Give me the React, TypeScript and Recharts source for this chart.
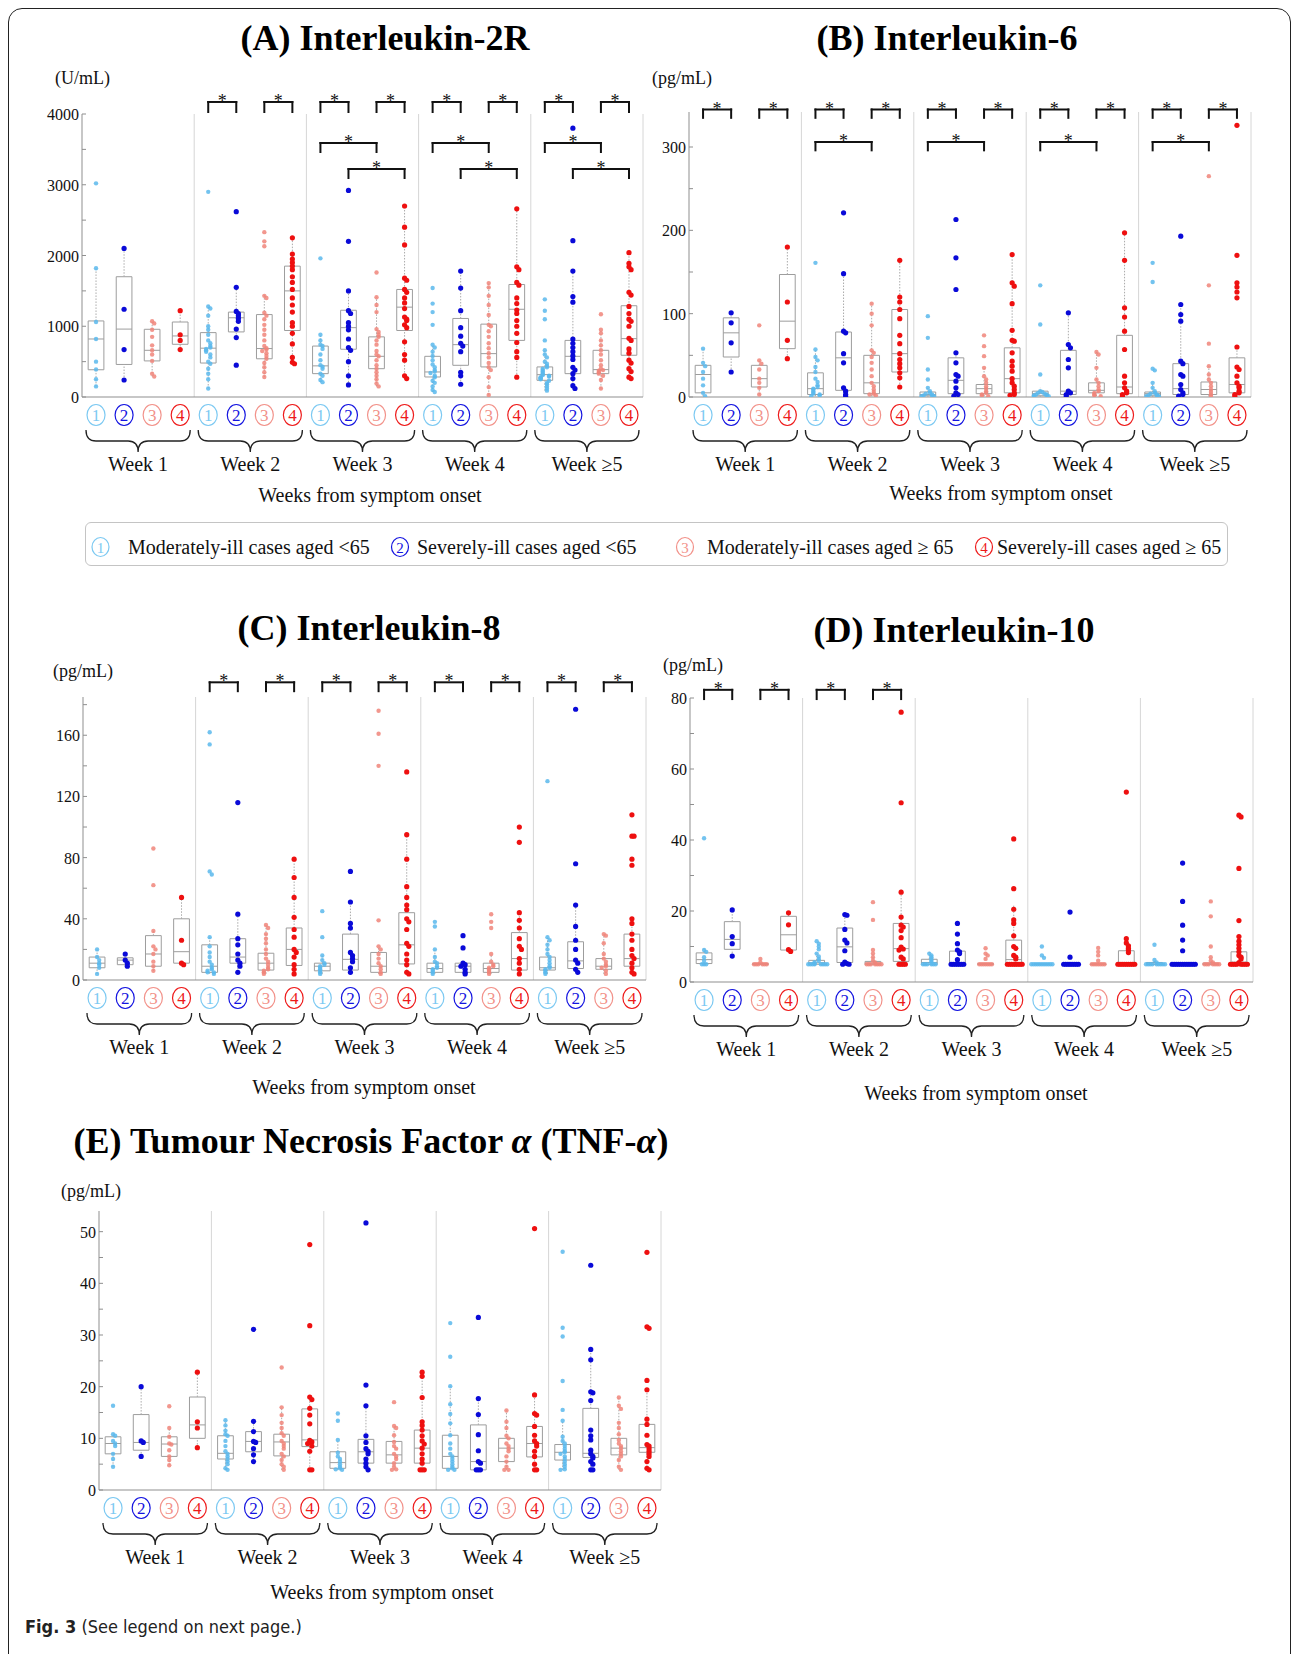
import React from 'react';
import { ComposedChart, Scatter, XAxis, YAxis, ReferenceLine, ReferenceArea } from 'recharts';

const SERIF = '"Liberation Serif", "Times New Roman", Times, serif';
const SANS_NARROW = '"Liberation Sans Narrow", "DejaVu Sans Condensed", "Noto Sans", sans-serif';

const WEEKS = ['Week 1', 'Week 2', 'Week 3', 'Week 4', 'Week ≥5'];
const GROUPS = [
  'Moderately-ill cases aged <65',
  'Severely-ill cases aged <65',
  'Moderately-ill cases aged ≥ 65',
  'Severely-ill cases aged ≥ 65',
];
const DOT_COLORS = ['#5bb8ec', '#0a0ad8', '#f0857a', '#ee1010'];
const RING_COLORS = ['#7cc9f2', '#1414e0', '#f2928a', '#ee1a1a'];
const DOT_SIZE = [2.2, 2.6, 2.2, 2.6];
const DOT_OPACITY = [0.85, 1, 0.85, 1];
const BOX_GREY = '#9d9d9d';

// x positions 1..20 : week * 4 + group
const POSITIONS = Array.from({ length: 20 }, (_, i) => i + 1);
const WEEK_EDGES = [4.5, 8.5, 12.5, 16.5, 20.5];

// ---------- (A) IL-2R, U/mL : [group][week][values] ----------
const IL2R_G1 = [
  [3020, 1820, 1060, 820, 500, 390, 250, 150],
  [2900, 1280, 1250, 1150, 1000, 950, 880, 800, 760, 720, 700, 680, 660, 640, 600, 560, 500, 470, 400, 330, 250, 120],
  [1960, 880, 800, 740, 720, 680, 600, 520, 450, 430, 400, 330, 300, 240, 210],
  [1540, 1320, 1200, 1020, 740, 700, 640, 580, 520, 460, 420, 380, 360, 340, 300, 280, 230, 200, 150, 100, 70],
  [1380, 1220, 1100, 800, 660, 600, 560, 500, 470, 440, 420, 400, 380, 360, 340, 320, 310, 300, 290, 280, 270, 260, 250, 230, 200, 180, 150, 120, 90],
];
const IL2R_G2 = [
  [2100, 1240, 670, 240],
  [2620, 1550, 1210, 1180, 1150, 1110, 1070, 960, 840, 450],
  [2920, 2200, 1500, 1220, 1180, 1050, 1000, 950, 820, 700, 660, 500, 300, 170],
  [1780, 1540, 1220, 980, 860, 760, 720, 640, 350, 300, 180],
  [3800, 2210, 1780, 1420, 1340, 820, 760, 700, 640, 580, 530, 420, 380, 330, 260, 160, 120],
];
const IL2R_G3 = [
  [1070, 1040, 950, 850, 730, 660, 600, 510, 330, 290],
  [2330, 2200, 2130, 1430, 1400, 1190, 1150, 1100, 1020, 950, 880, 800, 720, 690, 670, 650, 620, 580, 540, 480, 420, 350, 283],
  [1760, 1410, 1300, 1200, 960, 920, 880, 850, 800, 740, 650, 600, 575, 520, 450, 400, 350, 300, 250, 190, 150],
  [1610, 1550, 1430, 1300, 1160, 1020, 1000, 930, 850, 760, 690, 620, 560, 480, 420, 380, 280, 140, 30],
  [1170, 950, 900, 800, 730, 660, 600, 520, 450, 400, 380, 370, 350, 330, 300, 240, 120],
];
const IL2R_G4 = [
  [1220, 880, 800, 670],
  [2250, 2020, 1950, 1900, 1850, 1800, 1700, 1620, 1520, 1400, 1300, 1200, 1050, 1000, 900, 750, 560, 490, 470],
  [2700, 2400, 2150, 1680, 1650, 1520, 1480, 1400, 1330, 1250, 1130, 1100, 1080, 1020, 980, 780, 600, 520, 300, 260],
  [2660, 1840, 1800, 1620, 1580, 1400, 1320, 1230, 1180, 1080, 1000, 900, 770, 640, 560, 280],
  [2040, 1890, 1840, 1800, 1480, 1440, 1280, 1180, 1100, 1070, 1000, 830, 800, 680, 620, 520, 480, 400, 360, 280, 260],
];
// [whisker low, q1, median, q3, whisker high] per position
const IL2R_BOX = [
  [150, 385, 820, 1075, 1820], [240, 460, 960, 1700, 2100], [290, 510, 660, 957, 1080], [670, 745, 863, 1060, 1220],
  [120, 480, 690, 910, 1300], [840, 920, 1120, 1200, 1550], [283, 540, 685, 1165, 1440], [470, 940, 1500, 1850, 2250],
  [210, 330, 440, 720, 880], [165, 675, 980, 1226, 1500], [150, 400, 575, 850, 1410], [260, 940, 1270, 1520, 2700],
  [70, 283, 354, 575, 740], [180, 448, 740, 1110, 1780], [30, 425, 613, 1030, 1610], [280, 800, 1240, 1590, 2660],
  [90, 236, 316, 425, 660], [120, 330, 575, 800, 1780], [118, 330, 387, 660, 950], [260, 590, 825, 1290, 2040],
];
// [from, to, bracket row]
const IL2R_SIG = [
  [5, 6, 0], [7, 8, 0], [9, 10, 0], [11, 12, 0], [13, 14, 0], [15, 16, 0], [17, 18, 0], [19, 20, 0],
  [9, 11, 1], [13, 15, 1], [17, 19, 1],
  [10, 12, 2], [14, 16, 2], [18, 20, 2],
];

// ---------- (B) IL-6, pg/mL ----------
const IL6_G1 = [
  [58, 41, 37, 30, 22, 14, 5, 1],
  [161, 57, 48, 44, 36, 30, 22, 18, 14, 12, 10, 9, 7, 5, 4, 3, 2, 1],
  [97, 71, 33, 21, 11, 7, 5, 4, 3, 2, 2, 1, 1],
  [134, 87, 27, 7, 6, 5, 4, 3, 3, 2, 2, 1, 1],
  [161, 138, 34, 32, 17, 11, 7, 5, 4, 3, 2, 2, 1, 1],
];
const IL6_G2 = [
  [101, 89, 65, 30],
  [221, 148, 79, 77, 52, 41, 11, 7, 3, 1],
  [213, 167, 129, 53, 41, 27, 25, 19, 11, 5, 3, 1],
  [101, 63, 59, 45, 35, 7, 5, 3, 1],
  [193, 111, 99, 91, 43, 40, 27, 25, 15, 9, 5, 3, 1],
];
const IL6_G3 = [
  [86, 44, 40, 33, 22, 17, 11, 3],
  [112, 100, 86, 56, 53, 48, 41, 33, 25, 17, 13, 9, 6, 4, 3, 2],
  [74, 61, 49, 35, 25, 21, 17, 13, 10, 7, 5, 3, 2, 1],
  [54, 51, 35, 21, 17, 13, 9, 7, 5, 3, 2, 1],
  [265, 134, 64, 37, 27, 21, 17, 13, 9, 6, 3, 1],
];
const IL6_G4 = [
  [180, 114, 68, 46],
  [164, 120, 114, 105, 94, 74, 64, 52, 45, 40, 35, 29, 23, 12],
  [171, 137, 133, 112, 80, 68, 67, 53, 43, 37, 31, 22, 17, 13, 9, 5, 3, 2],
  [197, 164, 107, 96, 79, 57, 25, 17, 11, 7, 5, 3, 1],
  [326, 170, 137, 132, 126, 119, 60, 36, 33, 25, 17, 13, 11, 7, 5, 3, 1],
];
const IL6_BOX = [
  [1, 5, 27, 38, 58], [30, 48, 77, 95, 101], [3, 12, 22, 38, 45], [46, 58, 91, 147, 180],
  [1, 3, 10, 29, 57], [1, 8, 47, 78, 148], [1, 4, 17, 50, 112], [12, 30, 52, 105, 164],
  [0.5, 1.5, 3, 6, 11], [1, 4, 20, 47, 53], [1, 4, 10, 15, 35], [1, 5, 22, 59, 171],
  [0.5, 1.5, 4, 7, 11], [1, 3, 7, 56, 101], [1, 5, 8, 17, 54], [1, 4, 12, 74, 197],
  [0.5, 1.5, 4, 6, 17], [1, 3, 10, 40, 111], [1, 3, 9, 18, 37], [1, 5, 15, 47, 60],
];
const IL6_SIG = [
  [1, 2, 0], [3, 4, 0], [5, 6, 0], [7, 8, 0], [9, 10, 0], [11, 12, 0], [13, 14, 0], [15, 16, 0], [17, 18, 0], [19, 20, 0],
  [5, 7, 1], [9, 11, 1], [13, 15, 1], [17, 19, 1],
];

// ---------- (C) IL-8, pg/mL ----------
const IL8_G1 = [
  [20, 15, 13, 11, 10, 8, 4],
  [162, 154, 71, 69, 28, 22, 18, 15, 12, 10, 8, 7, 6, 5, 5, 4],
  [45, 28, 16, 13, 11, 10, 9, 8, 7, 6, 5, 4],
  [38, 35, 20, 15, 12, 11, 9, 8, 7, 6, 5, 4],
  [130, 28, 26, 23, 20, 17, 15, 13, 11, 9, 8, 7, 6, 5, 4],
];
const IL8_G2 = [
  [17, 13, 11, 9],
  [116, 43, 27, 23, 17, 13, 11, 9, 5],
  [71, 51, 37, 34, 18, 16, 14, 12, 8, 5],
  [29, 21, 11, 10, 9, 7, 5, 4],
  [177, 76, 49, 35, 26, 20, 13, 11, 7, 5],
];
const IL8_G3 = [
  [86, 62, 32, 22, 20, 17, 12, 9, 6],
  [36, 34, 30, 27, 24, 20, 17, 14, 12, 10, 8, 7, 6, 5, 4],
  [176, 161, 140, 39, 22, 20, 17, 14, 11, 9, 7, 5, 4],
  [43, 38, 34, 17, 12, 10, 9, 8, 7, 6, 5, 4],
  [30, 29, 24, 17, 14, 12, 10, 9, 8, 6, 4],
];
const IL8_G4 = [
  [54, 26, 11, 10],
  [79, 67, 54, 41, 33, 28, 20, 18, 15, 10, 7, 4],
  [136, 95, 79, 61, 54, 49, 46, 40, 38, 33, 24, 22, 17, 13, 10, 5, 4],
  [100, 90, 44, 39, 34, 27, 22, 20, 14, 11, 7, 4],
  [108, 94, 94, 79, 75, 40, 37, 30, 26, 20, 16, 14, 11, 8, 5, 4],
];
const IL8_BOX = [
  [4, 8, 11, 15, 20], [9, 10, 13, 14.5, 17], [6, 9, 17, 29, 32], [10, 11, 18.5, 40, 54],
  [4, 5, 9, 23, 28], [5, 11, 15, 27, 43], [4, 6.5, 11, 17.5, 36], [4, 9.5, 20, 34, 79],
  [4, 6, 9, 11, 16], [5, 6.5, 13.5, 30, 51], [4, 5, 9, 18, 22], [4, 10.5, 23, 44, 95],
  [4, 5, 7.5, 11, 20], [4, 5, 9, 11, 11], [4, 5, 7.5, 11, 17], [4, 6.5, 14, 31, 44],
  [4, 6.5, 8, 15, 28], [5, 7.5, 12.5, 25, 49], [4, 7, 9, 14, 30], [4, 9, 14, 30, 40],
];
const IL8_SIG = [
  [5, 6, 0], [7, 8, 0], [9, 10, 0], [11, 12, 0], [13, 14, 0], [15, 16, 0], [17, 18, 0], [19, 20, 0],
];

// ---------- (D) IL-10, pg/mL ----------
const IL10_G1 = [
  [40.5, 9, 8.5, 7, 6, 5, 5, 5],
  [11.5, 10.8, 10, 9.2, 8, 7.2, 6.5, 6, 5.6, 5.2, 5, 5, 5, 5, 5, 5, 5, 5],
  [8, 7.5, 7, 6.5, 6, 5.5, 5, 5, 5, 5, 5, 5],
  [10, 7.5, 6.8, 5, 5, 5, 5, 5, 5, 5, 5, 5, 5, 5],
  [10.5, 6.2, 5.5, 5, 5, 5, 5, 5, 5, 5, 5, 5],
];
const IL10_G2 = [
  [20.3, 12.8, 10.8, 7.3],
  [19, 18.8, 14.8, 11.8, 11, 8.8, 5.6, 5.2, 5, 5],
  [16.5, 13.5, 10.8, 9, 8.5, 8, 6.3, 5, 5, 5, 5, 5, 5, 5],
  [19.7, 7, 5, 5, 5, 5, 5, 5, 5, 5],
  [33.5, 22.7, 16, 11.8, 8.8, 5, 5, 5, 5, 5, 5, 5, 5, 5, 5, 5, 5],
];
const IL10_G3 = [
  [6.5, 5.5, 5, 5, 5, 5, 5, 5],
  [22.5, 17.5, 9, 8, 7, 6, 5.5, 5, 5, 5, 5, 5, 5, 5],
  [9.5, 8, 7.5, 6.5, 5, 5, 5, 5, 5, 5, 5],
  [9.6, 8.5, 7.5, 6, 5, 5, 5, 5, 5, 5, 5],
  [22.7, 18.5, 10, 7, 6, 5.5, 5, 5, 5, 5, 5, 5, 5],
];
const IL10_G4 = [
  [19.5, 16.1, 9.1, 8.6],
  [76, 50.5, 25.3, 18.3, 16, 15.5, 14.5, 12.5, 9.8, 9.3, 9, 7, 6.5, 5, 5, 5, 5],
  [40.3, 26.3, 20.5, 17.5, 16.5, 13, 10, 9.5, 7.5, 7, 6.5, 5, 5, 5, 5, 5, 5, 5, 5],
  [53.5, 12.2, 11, 10.2, 9.5, 9, 8.3, 5, 5, 5, 5, 5, 5, 5, 5, 5],
  [47, 46.5, 32, 17.3, 12.8, 11.5, 10.5, 9.5, 8.5, 7.5, 7, 6.5, 5.5, 5, 5, 5, 5, 5, 5, 5, 5],
];
const IL10_BOX = [
  [5, 5.2, 6.3, 8.2, 9.4], [7.3, 9.2, 12, 17, 20.3], [5, 5, 5, 5.2, 5.5], [8.6, 9, 13.3, 18.5, 19.5],
  [5, 5, 5.4, 6.1, 8], [5, 5.5, 9.9, 15.2, 19], [5, 5, 5.3, 5.8, 8], [5, 5.8, 9.4, 16.5, 26],
  [5, 5, 5.5, 6.4, 8.5], [5, 5, 5.4, 8.7, 8.7], [5, 5, 5, 5.2, 5.3], [5, 5, 6.3, 11.8, 21.5],
  [5, 5, 5, 5.1, 5.2], [5, 5, 5, 5.1, 5.2], [5, 5, 5, 5.1, 5.2], [5, 5.1, 5.4, 8.8, 12.2],
  [5, 5, 5, 5.5, 6.2], [5, 5, 5, 5.1, 5.2], [5, 5, 5, 5.3, 6], [5, 5.2, 5.6, 8.5, 13],
];
const IL10_SIG = [[1, 2, 0], [3, 4, 0], [5, 6, 0], [7, 8, 0]];

// ---------- (E) TNF-alpha, pg/mL ----------
const TNF_G1 = [
  [16.3, 10.8, 10.5, 9.5, 9, 8.5, 7, 6, 4.5],
  [13.5, 12.5, 11.5, 10.8, 10.5, 9.5, 8.5, 7.5, 7, 6.5, 6, 5.5, 5, 4.2, 3.9],
  [14.8, 13.4, 9.7, 7.2, 6.5, 6, 5.5, 5, 4.5, 4.2, 4, 3.9],
  [32.3, 25.8, 20.1, 16.6, 14.7, 12.9, 10.6, 9, 8, 7, 6.5, 6, 5.5, 5, 4.5, 4.2, 3.9, 3.9],
  [46.1, 31.4, 29.7, 21.1, 15.5, 13.4, 10.3, 9.5, 9, 8.5, 8, 7.5, 7.3, 7, 6.5, 6, 5.5, 5, 4.5, 4, 3.9],
];
const TNF_G2 = [
  [20, 9.5, 9.2, 6.5],
  [31.1, 13.3, 11.3, 9.4, 9.2, 8, 6.8, 5.5],
  [51.7, 20.3, 16.3, 10.5, 9.2, 8, 7.5, 7, 6, 5.2, 4.5, 3.9],
  [33.4, 17.7, 14.6, 10.7, 7.6, 5.5, 5.2, 3.9, 3.9, 3.9],
  [43.5, 27.2, 25.2, 19, 18.8, 17.3, 11.6, 10.5, 9.7, 7.7, 7, 6.5, 6.2, 5.5, 5, 3.9, 3.9],
];
const TNF_G3 = [
  [16.2, 12, 10.3, 9, 8.8, 7.7, 6.5, 5.8, 4.8],
  [23.7, 16, 14.5, 13, 12, 11, 10.5, 9.5, 9, 8.5, 8, 7, 6.5, 5.8, 5, 4.5, 3.9],
  [17, 12.4, 12, 10.6, 9.3, 8.5, 8, 7, 6.5, 6, 5.2, 4.5, 4, 3.9],
  [15.4, 13.2, 12, 10.5, 10, 9, 8.5, 8, 7.5, 6.5, 5.5, 4.5, 3.9, 3.9],
  [17.9, 16.3, 15.7, 13, 12, 10.8, 9.7, 9, 8.5, 8.1, 7.5, 7, 6.5, 5.8, 4.5, 3.9],
];
const TNF_G4 = [
  [22.8, 13.2, 12, 8.2],
  [47.5, 31.8, 18, 17.5, 15.8, 14.5, 12.8, 9.6, 9.3, 9, 8.5, 7.5, 3.9, 3.9],
  [22.8, 22, 17.9, 13.2, 12.5, 11.6, 10.5, 9.5, 8.9, 8.1, 7, 6, 5.2, 3.9, 3.9, 3.9],
  [50.6, 18.4, 14.8, 14.5, 12.3, 10.6, 9.5, 9, 8.5, 7.5, 6.5, 5, 3.9, 3.9],
  [46, 31.6, 31.3, 21.2, 19.4, 13.7, 12.7, 10.6, 8.8, 8.5, 8, 7.5, 7, 6.5, 5.5, 4.2, 3.9],
];
const TNF_BOX = [
  [4.5, 7, 9, 10.3, 11], [6.5, 7.7, 9.2, 14.6, 20], [4.8, 6.5, 8.9, 10.3, 12.1], [8.2, 10, 12.6, 18, 22.8],
  [3.9, 6, 7.1, 10.5, 13.5], [5.5, 7.4, 9.4, 11.3, 13.3], [3.9, 6.6, 9.3, 10.8, 16], [3.9, 8.4, 9.7, 15.7, 18],
  [3.9, 4.2, 5.3, 7.4, 9.7], [3.9, 5.2, 7.4, 9.8, 16.3], [3.9, 5.2, 6.8, 9.4, 12.4], [3.9, 5.2, 8.1, 11.6, 22.8],
  [3.9, 4.2, 6.5, 10.6, 20.1], [3.9, 3.9, 5.5, 12.6, 17.7], [3.9, 5.5, 8.1, 10, 15.4], [3.9, 6.4, 9, 12.3, 18.4],
  [3.9, 5.8, 7.3, 8.8, 13.4], [3.9, 6.3, 7.1, 15.8, 27.2], [3.9, 6.8, 8.1, 10, 17.9], [3.9, 7.3, 8.2, 12.7, 19.4],
];

// small beeswarm: points with (nearly) equal values are pushed sideways
const spread = (vals: number[], pos: number, tol: number) => {
  const placed: number[] = [];
  return vals.map((v) => {
    const n = placed.filter((p) => Math.abs(p - v) < tol).length;
    placed.push(v);
    const k = Math.min(Math.ceil(n / 2), 6);
    const dx = n === 0 ? 0 : (n % 2 ? 1 : -1) * k * 0.075;
    return { x: pos + dx, y: v };
  });
};

const bracePath = (a: number, b: number, y0: number) => {
  const m = (a + b) / 2;
  const h = 11;
  const tip = 22;
  const r = 10;
  return `M${a},${y0} Q${a},${y0 + h} ${a + r},${y0 + h} L${m - r},${y0 + h} Q${m},${y0 + h} ${m},${y0 + tip} ` +
    `Q${m},${y0 + h} ${m + r},${y0 + h} L${b - r},${y0 + h} Q${b},${y0 + h} ${b},${y0}`;
};

const makeGroupTick = (step: number) => (props: any) => {
  const { x, y, payload } = props;
  const g = payload.value as number;
  const k = (g - 1) % 4;
  const w = Math.floor((g - 1) / 4);
  const cy = y + 18;
  return (
    <g>
      <ellipse cx={x} cy={cy} rx={9} ry={10.5} fill="none" stroke={RING_COLORS[k]} strokeWidth={1.2} />
      <text x={x} y={cy + 6} textAnchor="middle" fontFamily={SERIF} fontSize={17} fill={RING_COLORS[k]}>
        {k + 1}
      </text>
      {k === 0 && (
        <>
          <path d={bracePath(x - step / 2 + 4, x + 3.5 * step - 4, y + 33)} fill="none" stroke="#222" strokeWidth={1.3} />
          <text x={x + 1.5 * step} y={y + 74} textAnchor="middle" fontFamily={SERIF} fontSize={20} fill="#111">
            {WEEKS[w]}
          </text>
        </>
      )}
    </g>
  );
};

const makeValueTick = (labelStep: number) => (props: any) => {
  const { x, y, payload } = props;
  const v = payload.value as number;
  const major = Math.abs(v / labelStep - Math.round(v / labelStep)) < 1e-6;
  return (
    <g>
      <line x1={x} x2={x + 4} y1={y} y2={y} stroke="#8f8f8f" />
      {major && (
        <text x={x - 3} y={y + 6} textAnchor="end" fontFamily={SERIF} fontSize={16} fill="#111">
          {v}
        </text>
      )}
    </g>
  );
};

type PanelProps = {
  title: React.ReactNode;
  titleAt: [number, number];
  unit: string;
  unitAt: [number, number];
  axisTitleAt: [number, number];
  plot: [number, number, number, number];
  yMax: number;
  tickStep: number;
  labelStep: number;
  groups: number[][][];
  boxes: number[][];
  sig?: number[][];
  levels?: number[][];
};

const TOP = 40;
const BOTTOM = 115;
const YW = 60;
const RIGHT = 10;

function Panel(p: PanelProps) {
  const [x0, y0, x1, y1] = p.plot;
  const width = x1 - x0 + YW + RIGHT;
  const height = y1 - y0 + TOP + BOTTOM;
  const step = (x1 - x0) / 20;
  const tol = p.yMax * 0.012;
  const ticks: number[] = [];
  for (let v = 0; v <= p.yMax + 1e-9; v += p.tickStep) ticks.push(+v.toFixed(4));
  const bw = 0.28;

  return (
    <>
      <div
        style={{
          position: 'absolute', left: p.titleAt[0] - 350, width: 700, top: p.titleAt[1] - 22,
          textAlign: 'center', fontFamily: SERIF, fontWeight: 'bold', fontSize: 36, lineHeight: '40px', color: '#000',
        }}
      >
        {p.title}
      </div>
      <div
        style={{
          position: 'absolute', left: p.unitAt[0], top: p.unitAt[1] - 10,
          fontFamily: SERIF, fontSize: 18, lineHeight: '20px', color: '#111', whiteSpace: 'nowrap',
        }}
      >
        {p.unit}
      </div>
      <div style={{ position: 'absolute', left: x0 - YW, top: y0 - TOP }}>
        <ComposedChart width={width} height={height} margin={{ top: TOP, right: RIGHT, bottom: 0, left: 0 }}>
          <XAxis
            type="number"
            dataKey="x"
            domain={[0.5, 20.5]}
            ticks={POSITIONS}
            interval={0}
            height={BOTTOM}
            tickSize={0}
            tickMargin={0}
            tickLine={false}
            axisLine={{ stroke: '#8f8f8f' }}
            tick={makeGroupTick(step)}
            allowDataOverflow
          />
          <YAxis
            type="number"
            dataKey="y"
            domain={[0, p.yMax]}
            ticks={ticks}
            interval={0}
            width={YW}
            tickSize={0}
            tickMargin={0}
            tickLine={false}
            axisLine={{ stroke: '#8f8f8f' }}
            tick={makeValueTick(p.labelStep)}
            allowDataOverflow
          />
          {WEEK_EDGES.map((x) => (
            <ReferenceLine key={`edge${x}`} x={x} stroke="#d6d6d6" strokeWidth={1} />
          ))}
          {p.boxes.map(([lo, q1, med, q3, hi], i) => {
            const g = i + 1;
            return (
              <React.Fragment key={`box${i}`}>
                <ReferenceLine segment={[{ x: g, y: q3 }, { x: g, y: hi }]} stroke="#aaaaaa" strokeDasharray="1.5 1.5" />
                <ReferenceLine segment={[{ x: g, y: lo }, { x: g, y: q1 }]} stroke="#aaaaaa" strokeDasharray="1.5 1.5" />
                <ReferenceArea x1={g - bw} x2={g + bw} y1={q1} y2={q3} fill="none" stroke={BOX_GREY} strokeWidth={1} />
                <ReferenceLine segment={[{ x: g - bw, y: med }, { x: g + bw, y: med }]} stroke={BOX_GREY} />
              </React.Fragment>
            );
          })}
          {p.groups.map((weeks, k) => (
            <Scatter
              key={`grp${k}`}
              data={weeks.flatMap((vals, w) => spread(vals, w * 4 + k + 1, tol))}
              isAnimationActive={false}
              shape={(s: any) => (
                <circle cx={s.cx} cy={s.cy} r={DOT_SIZE[k]} fill={DOT_COLORS[k]} fillOpacity={DOT_OPACITY[k]} />
              )}
            />
          ))}
          {(p.sig || []).map(([a, b, row], i) => {
            const [top, leg] = (p.levels || [])[row];
            const line = { stroke: '#111', strokeWidth: 2, strokeLinecap: 'square' as const, ifOverflow: 'visible' as const };
            return (
              <React.Fragment key={`sig${i}`}>
                <ReferenceLine segment={[{ x: a, y: leg }, { x: a, y: top }]} {...line} />
                <ReferenceLine segment={[{ x: b, y: leg }, { x: b, y: top }]} {...line} />
                <ReferenceLine
                  segment={[{ x: a, y: top }, { x: b, y: top }]}
                  {...line}
                  label={{ value: '*', position: 'top', offset: -5, fontSize: 18, fill: '#111', fontFamily: SERIF }}
                />
              </React.Fragment>
            );
          })}
        </ComposedChart>
      </div>
      <div
        style={{
          position: 'absolute', left: p.axisTitleAt[0] - 200, width: 400, top: p.axisTitleAt[1] - 12,
          textAlign: 'center', fontFamily: SERIF, fontSize: 20, lineHeight: '24px', color: '#111',
        }}
      >
        Weeks from symptom onset
      </div>
    </>
  );
}

const LEGEND_RINGS = [100.5, 400, 685, 984];
const LEGEND_TEXT = [128, 417, 707, 997];

function GroupLegend() {
  const left = 85;
  const top = 522;
  return (
    <div
      style={{
        position: 'absolute', left, top, width: 1143, height: 44, boxSizing: 'border-box',
        border: '1px solid #c4c4c4', borderRadius: 6,
      }}
    >
      <svg width={1143} height={44} style={{ position: 'absolute', left: -1, top: -1 }}>
        {GROUPS.map((label, k) => (
          <g key={label}>
            <ellipse cx={LEGEND_RINGS[k] - left} cy={25} rx={8.5} ry={9.5} fill="none" stroke={RING_COLORS[k]} strokeWidth={1.2} />
            <text x={LEGEND_RINGS[k] - left} y={30.5} textAnchor="middle" fontFamily={SERIF} fontSize={15} fill={RING_COLORS[k]}>
              {k + 1}
            </text>
            <text x={LEGEND_TEXT[k] - left} y={31.5} fontFamily={SERIF} fontSize={20} fill="#111">
              {label}
            </text>
          </g>
        ))}
      </svg>
    </div>
  );
}

export default function App() {
  return (
    <div style={{ position: 'absolute', left: 0, top: 0, width: 1295, height: 1654, overflow: 'hidden', background: '#fff' }}>
      <div
        style={{
          position: 'absolute', left: 8, top: 8, width: 1283, height: 1700, boxSizing: 'border-box',
          border: '1.5px solid #222', borderRadius: 14,
        }}
      />
      <Panel
        title="(A) Interleukin-2R"
        titleAt={[385, 40]}
        unit="(U/mL)"
        unitAt={[55, 78]}
        axisTitleAt={[370, 495]}
        plot={[82, 114, 643, 397]}
        yMax={4000}
        tickStep={500}
        labelStep={1000}
        groups={[IL2R_G1, IL2R_G2, IL2R_G3, IL2R_G4]}
        boxes={IL2R_BOX}
        sig={IL2R_SIG}
        levels={[[4170, 4028], [3590, 3463], [3222, 3095]]}
      />
      <Panel
        title="(B) Interleukin-6"
        titleAt={[947, 40]}
        unit="(pg/mL)"
        unitAt={[652, 78]}
        axisTitleAt={[1001, 493]}
        plot={[689, 112, 1251, 397]}
        yMax={342}
        tickStep={50}
        labelStep={100}
        groups={[IL6_G1, IL6_G2, IL6_G3, IL6_G4]}
        boxes={IL6_BOX}
        sig={IL6_SIG}
        levels={[[345, 335], [306, 296]]}
      />
      <GroupLegend />
      <Panel
        title="(C) Interleukin-8"
        titleAt={[369, 630]}
        unit="(pg/mL)"
        unitAt={[53, 671]}
        axisTitleAt={[364, 1087]}
        plot={[83, 697, 646, 980]}
        yMax={185}
        tickStep={20}
        labelStep={40}
        groups={[IL8_G1, IL8_G2, IL8_G3, IL8_G4]}
        boxes={IL8_BOX}
        sig={IL8_SIG}
        levels={[[194.6, 188.8]]}
      />
      <Panel
        title="(D) Interleukin-10"
        titleAt={[954, 632]}
        unit="(pg/mL)"
        unitAt={[663, 665]}
        axisTitleAt={[976, 1093]}
        plot={[690, 698, 1253, 982]}
        yMax={80}
        tickStep={10}
        labelStep={20}
        groups={[IL10_G1, IL10_G2, IL10_G3, IL10_G4]}
        boxes={IL10_BOX}
        sig={IL10_SIG}
        levels={[[82.3, 79.7]]}
      />
      <Panel
        title={<>(E) Tumour Necrosis Factor <i>α</i> (TNF-<i>α</i>)</>}
        titleAt={[371, 1143]}
        unit="(pg/mL)"
        unitAt={[61, 1191]}
        axisTitleAt={[382, 1592]}
        plot={[99, 1211, 661, 1490]}
        yMax={54}
        tickStep={5}
        labelStep={10}
        groups={[TNF_G1, TNF_G2, TNF_G3, TNF_G4]}
        boxes={TNF_BOX}
      />
      <div
        style={{
          position: 'absolute', left: 25, top: 1615, fontFamily: SANS_NARROW, fontSize: 18, lineHeight: '24px',
          color: '#222', whiteSpace: 'nowrap',
        }}
      >
        <b>Fig. 3</b> (See legend on next page.)
      </div>
    </div>
  );
}
